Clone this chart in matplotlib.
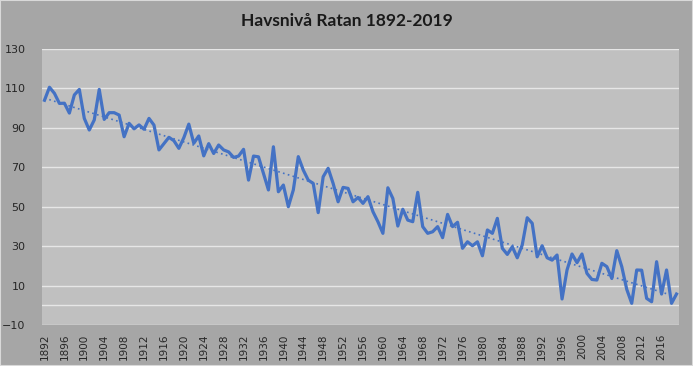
import numpy as np
import matplotlib.pyplot as plt
from matplotlib.patches import Rectangle

# Havsnivå Ratan, årsmedel (cm)
years = list(range(1892, 2020))
level = [104, 110.6, 107.5, 102.4, 102.5, 97.5, 106.7, 109.5, 94.8, 88.9,
         94, 109.5, 94.3, 97.7, 97.7, 96.5, 85.5, 92.3, 89.5, 91.5,
         89.3, 94.8, 91.4, 78.8, 82, 85.2, 83.5, 79.6, 85, 91.9,
         82.2, 85.9, 75.8, 82, 77, 81.3, 78.8, 77.8, 75, 75.7,
         79.1, 63.5, 75.7, 75.3, 66.9, 58.5, 80.4, 57.6, 61, 50,
         58.5, 75.4, 68.6, 63.5, 61.8, 47, 65.2, 69.5, 61.8, 52.5,
         59.8, 59.3, 52.5, 54.7, 51.7, 55.1, 47.5, 42.4, 36.5, 59.6,
         54.2, 40.2, 48.7, 43.2, 42.4, 57.3, 39.9, 36.5, 37.3, 39.9,
         34.3, 46.1, 39.9, 42.1, 28.9, 32.2, 30.2, 32.2, 25.1, 38.2,
         36.5, 44.1, 28.9, 25.8, 29.7, 24.1, 30.6, 44.4, 41.6, 24.6,
         30.2, 24.1, 22.9, 25.5, 3.2, 17.9, 26, 21.6, 26, 16.2,
         13.1, 12.8, 21.3, 19.6, 13.6, 27.7, 19.6, 8.1, 1, 17.9,
         17.8, 3.5, 1.8, 22.1, 5.7, 17.9, 1, 5.7]
yticks = [-10, 10, 30, 50, 70, 90, 110, 130]

blue = '#4472C4'

fig = plt.figure(figsize=(6.93, 3.66), dpi=100, facecolor='#a6a6a6')
fig.patches.append(Rectangle((0, 0), 1, 1, transform=fig.transFigure,
                             fill=False, edgecolor='#d9d9d9', lw=1.5))
ax = fig.add_axes([42 / 693, 1 - 325 / 366, 637 / 693, 276 / 366])
ax.set_facecolor('#c0c0c0')

x = np.arange(len(years))
ax.plot(x, level, color=blue, lw=2.3, solid_joinstyle='round', zorder=3)

# linjär trendlinje
k, m = np.polyfit(x, level, 1)
ax.plot(x, k * x + m, color=blue, lw=1.2, linestyle=(0, (1, 2)), zorder=2)

ax.set_xlim(-0.5, len(years) - 0.5)
ax.set_ylim(-10, 130)
ax.set_yticks(yticks)
for t in yticks:
    ax.axhline(t, color='#e6e6e6', lw=1, zorder=1)
ax.axhline(0, color='#e6e6e6', lw=1, zorder=1)

ax.set_xticks(x[::4])
ax.set_xticklabels([str(y) for y in years[::4]], rotation=90, fontsize=7.5,
                   color='#262626')
ax.tick_params(axis='y', labelsize=8, colors='#262626', length=0, pad=12)
ax.tick_params(axis='x', length=0, pad=6)
for s in ax.spines.values():
    s.set_visible(False)

fig.text(0.5, 1 - 21 / 366, 'Havsnivå Ratan 1892-2019', ha='center', va='center',
         fontsize=12.5, fontweight='bold', family='Lato', color='#1a1a1a')

fig.savefig('out.png', dpi=100, facecolor=fig.get_facecolor())
